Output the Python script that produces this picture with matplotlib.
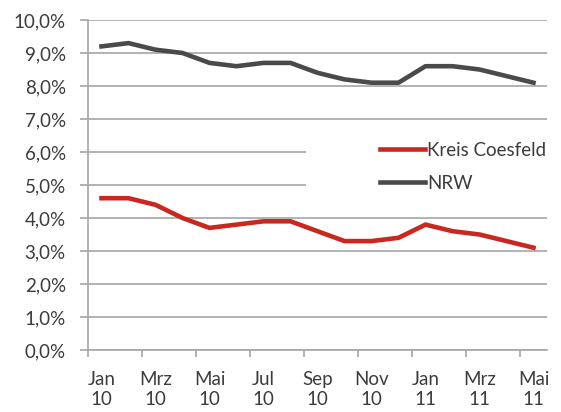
import matplotlib.pyplot as plt
from matplotlib.patches import Rectangle
from matplotlib.ticker import FuncFormatter, FixedLocator

plt.rcParams['font.family'] = ['Lato', 'DejaVu Sans']

months = ['Jan\n10', 'Feb\n10', 'Mrz\n10', 'Apr\n10', 'Mai\n10', 'Jun\n10', 'Jul\n10', 'Aug\n10',
          'Sep\n10', 'Okt\n10', 'Nov\n10', 'Dez\n10', 'Jan\n11', 'Feb\n11', 'Mrz\n11', 'Apr\n11', 'Mai\n11']
kreis = [4.6, 4.6, 4.4, 4.0, 3.7, 3.8, 3.9, 3.9, 3.6, 3.3, 3.3, 3.4, 3.8, 3.6, 3.5, 3.3, 3.1]
nrw = [9.2, 9.3, 9.1, 9.0, 8.7, 8.6, 8.7, 8.7, 8.4, 8.2, 8.1, 8.1, 8.6, 8.6, 8.5, 8.3, 8.1]

text_col = '#3c3c3c'
grid_col = '#a6a6a6'
fs = 13.5

fig = plt.figure(figsize=(5.61, 4.12), dpi=100)
ax = fig.add_axes([88/561, 1-350/412, 459/561, 330/412])

x = list(range(len(months)))
ax.plot(x, kreis, color='#c8281e', lw=3.3, label='Kreis Coesfeld', zorder=3, solid_joinstyle='round')
ax.plot(x, nrw, color='#4a4a4a', lw=3.3, label='NRW', zorder=3, solid_joinstyle='round')

ax.set_xlim(-0.5, len(months) - 0.5)
ax.set_ylim(0, 10)
ax.set_yticks(range(0, 11))
ax.yaxis.set_major_formatter(FuncFormatter(lambda v, p: f'{v:.1f}%'.replace('.', ',')))
ax.grid(axis='y', color=grid_col, lw=1.2)
ax.set_axisbelow(True)

# ticks at category boundaries, labels at centres
ax.xaxis.set_major_locator(FixedLocator([b - 0.5 for b in range(0, 17, 2)]))
ax.xaxis.set_major_formatter(FuncFormatter(lambda v, p: ''))
ax.set_xticks(x[::2], [months[i] for i in x[::2]], minor=True)
ax.tick_params(axis='x', which='major', length=5, width=1.2, color=grid_col)
ax.tick_params(axis='x', which='minor', length=0, pad=15, labelsize=fs, labelcolor=text_col)
ax.tick_params(axis='y', length=6, width=1.2, color=grid_col, labelsize=fs, labelcolor=text_col, pad=10)

for s in ['top', 'right']:
    ax.spines[s].set_visible(False)
for s in ['left', 'bottom']:
    ax.spines[s].set_color(grid_col)
    ax.spines[s].set_linewidth(1.2)

# white legend area hides grid lines
ax.add_patch(Rectangle(((306-88)/459, (350-205)/330), 1, (205-130)/330, transform=ax.transAxes,
                       facecolor='white', edgecolor='none', zorder=1, clip_on=False))

leg = ax.legend(loc='center left', bbox_to_anchor=((380-88)/459, (350-167)/330), frameon=False,
                fontsize=fs, handlelength=2.4, handletextpad=0.12, labelspacing=0.85, borderpad=0,
                borderaxespad=0)
for t in leg.get_texts():
    t.set_color(text_col)

fig.savefig('out.png', dpi=100)
